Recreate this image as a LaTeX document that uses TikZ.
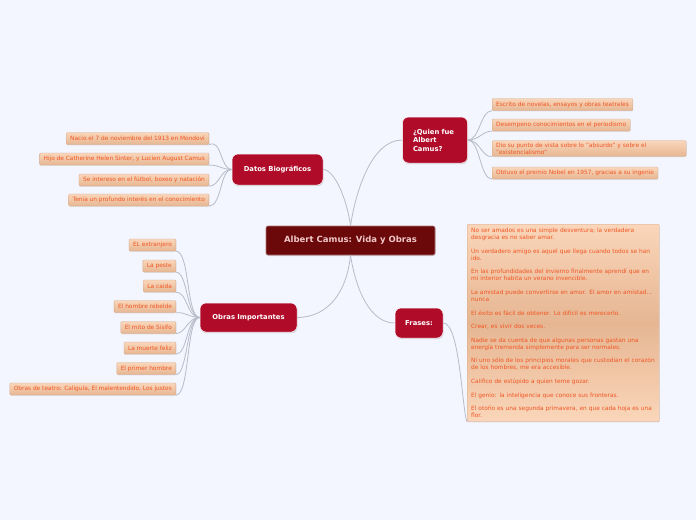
\documentclass[tikz,border=0pt]{standalone}
\usepackage{fontspec}
\setmainfont{DejaVu Sans}
\usepackage{tikz}
\usetikzlibrary{shadows}
\definecolor{bgblue}{RGB}{243,245,255}
\definecolor{crimson}{RGB}{176,12,42}
\definecolor{maroon}{RGB}{106,8,10}
\definecolor{rosetext}{RGB}{242,200,200}
\definecolor{peachtop}{RGB}{250,214,186}
\definecolor{peachbot}{RGB}{230,182,146}
\definecolor{leaftext}{RGB}{240,86,36}
\definecolor{linkgray}{RGB}{184,188,200}

\begin{document}
\begin{tikzpicture}[x=1pt, y=-1pt,
    central/.style={rectangle, draw=maroon!55!white, fill=maroon, line width=0.6pt, rounded corners=2pt, minimum width=169pt, minimum height=29pt, text=rosetext, font=\bfseries\fontsize{8.5}{10}\selectfont, drop shadow={shadow xshift=0.6pt, shadow yshift=-1pt, fill=gray!50}},
    branch/.style={rectangle, draw=white, fill=crimson, line width=0.5pt, rounded corners=6pt, text=white, font=\bfseries\fontsize{6.8}{8.5}\selectfont, drop shadow={shadow xshift=0.6pt, shadow yshift=-1.2pt, fill=gray!55}},
    leaf/.style={rectangle, draw=peachbot!80!gray, line width=0.3pt, top color=peachtop, bottom color=peachbot, rounded corners=1pt, minimum height=12pt, inner xsep=4pt, inner ysep=2pt, text=leaftext, font=\fontsize{5.85}{7}\selectfont, drop shadow={shadow xshift=0.4pt, shadow yshift=-0.8pt, fill=gray!40}},
    quotes/.style={rectangle, draw=peachbot!80!gray, line width=0.3pt, top color=peachtop, bottom color=peachtop, middle color=peachbot, rounded corners=1pt, inner xsep=4pt, inner ysep=4pt, text width=184pt, align=left, text=leaftext, font=\fontsize{5.85}{7}\selectfont, drop shadow={shadow xshift=0.4pt, shadow yshift=-0.8pt, fill=gray!40}},
    link/.style={draw=linkgray, line width=0.8pt}]

\fill [bgblue] (0,0) rectangle (696,520);
\useasboundingbox (0,0) rectangle (696,520);

% main topic and branches
\node [central] (camus) at (350.5,240.5) {Albert Camus: Vida y Obras};
\node [branch, minimum width=91pt, minimum height=31pt] (datos) at (277.5,169.5) {Datos Biográficos};
\node [branch, minimum width=65pt, minimum height=46pt, text width=44pt, align=left] (quien) at (435,140) {¿Quien fue\\Albert\\Camus?};
\node [branch, minimum width=97pt, minimum height=29pt] (obras) at (248.5,317.5) {Obras Importantes};
\node [branch, minimum width=48pt, minimum height=30pt] (frases) at (419,323) {Frases:};

% Datos Biograficos
\node [leaf, anchor=east] (nacio) at (209,138.5) {Nacio el 7 de noviembre del 1913 en Mondovi};
\node [leaf, anchor=east] (hijo) at (209,159) {Hijo de Catherine Helen Sinter, y Lucien August Camus};
\node [leaf, anchor=east] (futbol) at (209,180) {Se intereso en el fútbol, boxeo y natación};
\node [leaf, anchor=east] (interes) at (209,200) {Tenia un profundo interés en el conocimiento};

% Quien fue
\node [leaf, anchor=west] (escrito) at (492,104.5) {Escrito de novelas, ensayos y obras teatrales};
\node [leaf, anchor=west] (periodismo) at (492,125) {Desempeno conocimientos en el periodismo};
\node [leaf, anchor=west, align=left, text width=186pt] (absurdo) at (492,148.5) {Dio su punto de vista sobre lo "absurdo" y sobre el\\"existencialismo"};
\node [leaf, anchor=west] (nobel) at (492,173) {Obtuvo el premio Nobel en 1957, gracias a su ingenio};

% Obras Importantes
\node [leaf, anchor=east] (extranjero) at (176,245) {EL extranjero};
\node [leaf, anchor=east] (peste) at (176,266) {La peste};
\node [leaf, anchor=east] (caida) at (176,286) {La caida};
\node [leaf, anchor=east] (rebelde) at (176,306.5) {El hombre rebelde};
\node [leaf, anchor=east] (sisifo) at (176,327.5) {El mito de Sisifo};
\node [leaf, anchor=east] (muerte) at (176,348) {La muerte feliz};
\node [leaf, anchor=east] (primer) at (176,368.5) {El primer hombre};
\node [leaf, anchor=east] (teatro) at (176,389) {Obras de teatro: Caligula, El malentendido, Los justos};

% Frases
\node [quotes, anchor=north west] (citas) at (467,224) {No ser amados es una simple desventura; la verdadera\\desgracia es no saber amar.\\[6.6pt]
Un verdadero amigo es aquel que llega cuando todos se han\\ido.\\[6.6pt]
En las profundidades del invierno finalmente aprendí que en\\mi interior habita un verano invencible.\\[6.6pt]
La amistad puede convertirse en amor. El amor en amistad...\\nunca\\[6.6pt]
El éxito es fácil de obtener. Lo difícil es merecerlo.\\[6.6pt]
Crear, es vivir dos veces.\\[6.6pt]
Nadie se da cuenta de que algunas personas gastan una\\energía tremenda simplemente para ser normales.\\[6.6pt]
Ni uno sólo de los principios morales que custodian el corazón\\de los hombres, me era accesible.\\[6.6pt]
Califico de estúpido a quien teme gozar.\\[6.6pt]
El genio: la inteligencia que conoce sus fronteras.\\[6.6pt]
El otoño es una segunda primavera, en que cada hoja es una\\flor.};

% connectors
\draw [link] (camus.north) .. controls (347,200) and (335,170) .. (datos.east);
\draw [link] (camus.north) .. controls (356,190) and (372,140) .. (quien.west);
\draw [link] (camus.south) .. controls (347,290) and (330,317) .. (obras.east);
\draw [link] (camus.south) .. controls (356,290) and (370,323) .. (frases.west);

\draw [link] (datos.west) .. controls (220,169) and (222,138.5) .. (nacio.south east);
\draw [link] (datos.west) .. controls (220,169) and (220,165) .. (hijo.south east);
\draw [link] (datos.west) .. controls (220,169) and (220,186) .. (futbol.south east);
\draw [link] (datos.west) .. controls (220,169) and (222,206) .. (interes.south east);

\draw [link] (quien.east) .. controls (480,140) and (480,111) .. (escrito.south west);
\draw [link] (quien.east) .. controls (480,140) and (482,131) .. (periodismo.south west);
\draw [link] (quien.east) .. controls (480,140) and (482,158) .. (absurdo.south west);
\draw [link] (quien.east) .. controls (480,140) and (480,179) .. (nobel.south west);

\draw [link] (obras.west) .. controls (186,317) and (190,251) .. (extranjero.south east);
\draw [link] (obras.west) .. controls (186,317) and (188,272) .. (peste.south east);
\draw [link] (obras.west) .. controls (186,317) and (188,292) .. (caida.south east);
\draw [link] (obras.west) .. controls (188,317) and (186,312) .. (rebelde.south east);
\draw [link] (obras.west) .. controls (188,317) and (186,333) .. (sisifo.south east);
\draw [link] (obras.west) .. controls (186,317) and (188,354) .. (muerte.south east);
\draw [link] (obras.west) .. controls (186,317) and (188,374) .. (primer.south east);
\draw [link] (obras.west) .. controls (186,317) and (190,395) .. (teatro.south east);

\draw [link] (frases.east) .. controls (460,323) and (462,410) .. (citas.south west);

\end{tikzpicture}
\end{document}
